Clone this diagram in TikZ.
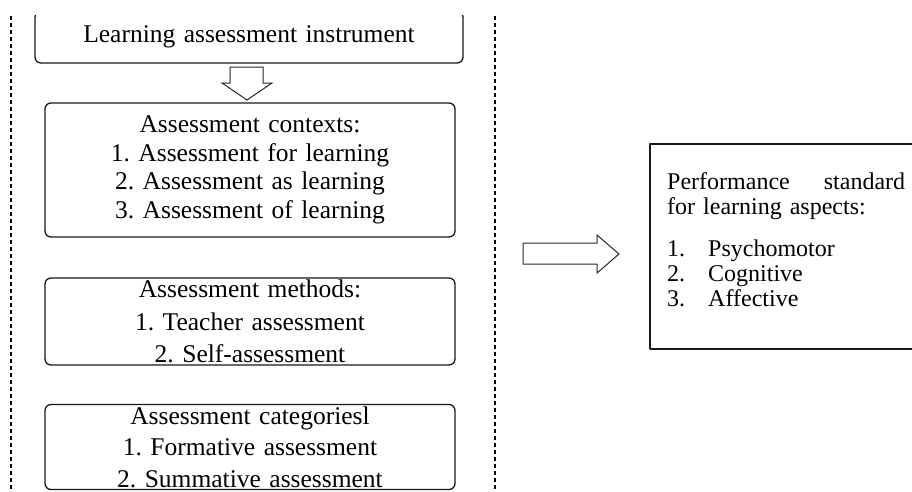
\documentclass[tikz,border=0pt]{standalone}
\usepackage{fontspec}
\setmainfont{Liberation Serif}
\tikzset{
  rbox/.style={draw=black!90, line width=1.3pt, rounded corners=6pt, inner sep=0pt, align=center, text width=400pt},
  sqbox/.style={draw=black!90, line width=1.4pt, inner sep=0pt},
  hollow/.style={draw=black!85, line width=1pt, fill=white, line join=miter},
  divider/.style={draw=black, line width=1.3pt, dash pattern=on 4pt off 3pt}
}
\newcommand{\lfont}{\frenchspacing\fontsize{25.5}{28.5}\selectfont\spaceskip=0.36em plus 0.1em}
\newcommand{\rfont}{\frenchspacing\fontsize{24}{25}\selectfont}
\begin{document}
\begin{tikzpicture}[x=1pt, y=-1pt, line join=round]
\useasboundingbox (0,0) rectangle (912,491);
\clip (0,15) rectangle (912,491);
% dividers of the left column
\draw[divider] (11,16) -- (11,491);
\draw[divider] (495,16) -- (495,491);
% left column
\node[rbox, minimum width=428pt, minimum height=52pt, font=\lfont] (instr) at (249,37) {Learning assessment instrument};
\node[rbox, minimum width=410pt, minimum height=134pt, font=\lfont] (ctx) at (250,170)
  {Assessment contexts:\\1. Assessment for learning\\2. Assessment as learning\\3. Assessment of learning};
\node[rbox, minimum width=410pt, minimum height=87pt, font={\lfont\baselineskip=32.5pt}] (meth) at (250,321.5)
  {Assessment methods:\\1. Teacher assessment\\2. Self-assessment};
\node[rbox, minimum width=410pt, minimum height=85pt, font={\lfont\baselineskip=31.5pt}] (cat) at (250,447)
  {Assessment categoriesl\\1. Formative assessment\\2. Summative assessment};
\draw[hollow] (230,67) -- (263,67) -- (263,83) -- (272,83) -- (247,100) -- (222,83) -- (230,83) -- cycle;
% right side
\draw[hollow] (523,243) -- (597,243) -- (597,235) -- (619,254) -- (597,273) -- (597,264) -- (523,264) -- cycle;
\node[sqbox, minimum width=275pt, minimum height=205pt] (perf) at (787.5,246.5) {};
\node[anchor=north west, inner sep=0pt, text width=238pt, align=left, font=\rfont] (perftext) at (667,172)
  {Performance\hfill standard\\for learning aspects:\\[17pt]
   \makebox[41pt][l]{1.}Psychomotor\\
   \makebox[41pt][l]{2.}Cognitive\\
   \makebox[41pt][l]{3.}Affective};
\end{tikzpicture}
\end{document}
